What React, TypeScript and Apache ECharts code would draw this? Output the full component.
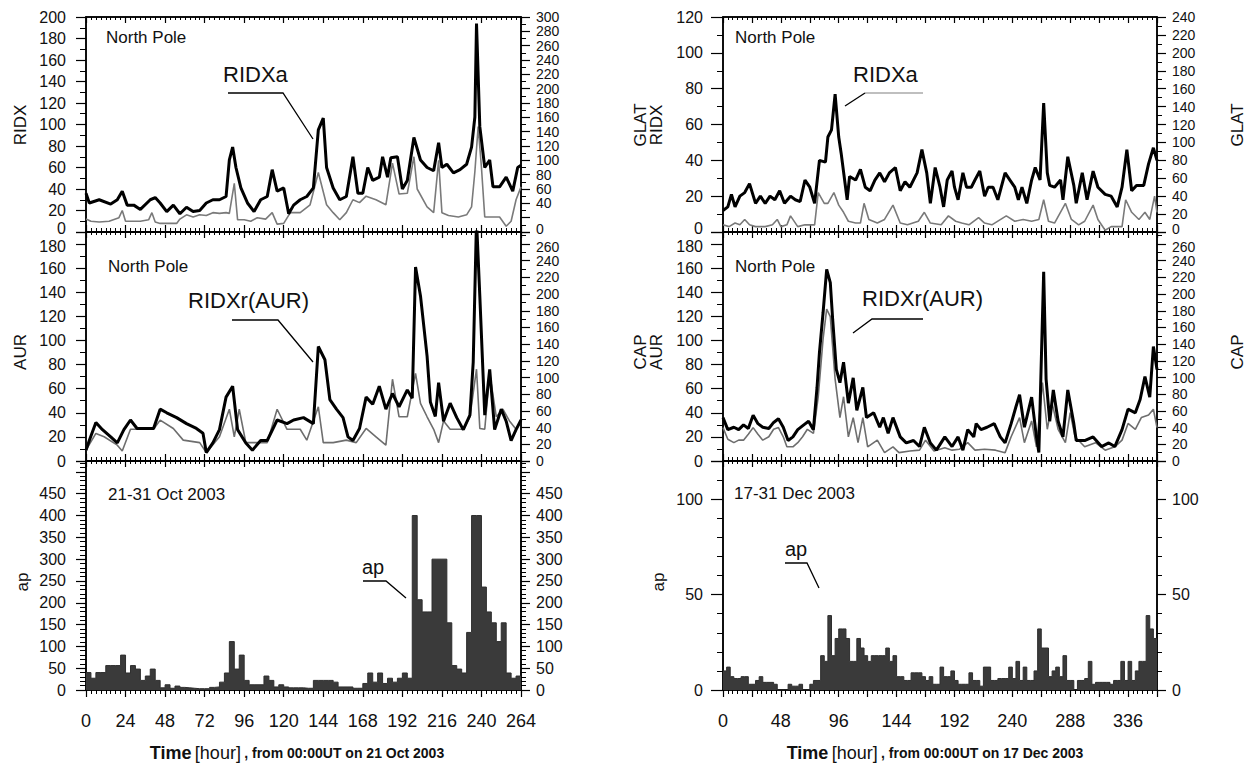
import React, { useEffect, useRef } from 'react';
import * as echarts from 'echarts';

// ---------- Data (hour, value) ----------
// 21-31 Oct 2003, North Pole, RIDXa (left axis, RIDX)
const ridxOct: number[][] = [[0,36],[2,27],[8,30],[15,26],[19,30],[22,38],[25,25],[29,25],[33,21],[39,30],[42,32],[45,27],[49,19],[53,25],[57,17],[61,23],[65,19],[69,20],[73,27],[77,30],[81,30],[85,33],[87,67],[89,79],[91,60],[94,41],[98,27],[102,19],[106,30],[110,33],[113,58],[116,38],[120,41],[123,17],[126,25],[130,30],[134,33],[138,41],[141,95],[144,106],[146,60],[150,41],[154,30],[158,33],[162,70],[165,36],[168,36],[171,60],[174,48],[178,51],[180,70],[183,51],[185,69],[189,70],[192,40],[195,48],[199,88],[203,67],[207,60],[211,57],[214,83],[216,60],[219,63],[223,55],[227,58],[231,63],[234,79],[236,107],[237,194],[239,98],[242,60],[245,67],[247,42],[251,42],[255,51],[259,38],[262,60],[264,62]];
// GLAT (right axis)
const glatOct: number[][] = [[0,18],[3,15],[8,14],[14,15],[20,20],[22,30],[24,15],[28,15],[33,15],[38,17],[40,27],[42,14],[45,12],[50,12],[55,12],[57,18],[61,24],[65,21],[69,24],[73,23],[77,27],[81,26],[85,27],[87,26],[90,68],[92,17],[96,17],[100,15],[104,20],[109,18],[113,27],[116,11],[120,12],[124,27],[130,27],[136,38],[141,83],[146,38],[150,27],[154,17],[158,27],[162,45],[166,41],[170,50],[176,45],[182,38],[186,96],[190,53],[195,54],[199,105],[201,60],[207,35],[211,27],[214,100],[216,27],[220,23],[226,21],[231,24],[234,35],[236,84],[238,147],[240,90],[242,21],[247,21],[251,21],[255,8],[258,15],[261,45],[264,63]];
// RIDXr(AUR) (left axis, AUR)
const aurOct: number[][] = [[0,9],[2,17],[6,32],[10,26],[15,20],[19,15],[23,26],[27,34],[31,27],[35,27],[41,27],[45,43],[49,40],[55,36],[61,31],[67,27],[71,23],[73,7],[77,15],[81,26],[85,53],[89,62],[92,26],[97,15],[101,9],[106,17],[110,17],[116,34],[122,31],[126,34],[132,36],[138,31],[141,95],[145,84],[148,51],[152,43],[156,36],[159,20],[162,17],[166,27],[170,53],[174,47],[178,62],[182,43],[186,56],[190,45],[195,59],[198,52],[200,161],[203,137],[207,87],[209,49],[212,37],[214,65],[217,33],[221,48],[225,36],[229,26],[233,38],[235,82],[237,200],[239,137],[242,38],[245,76],[248,26],[252,43],[255,33],[258,17],[261,26],[264,34]];
// CAP (right axis)
const capOct: number[][] = [[0,13],[6,33],[11,29],[19,19],[22,12],[27,38],[33,38],[41,38],[45,49],[53,39],[59,25],[69,22],[73,10],[81,29],[87,62],[90,29],[93,62],[97,22],[106,22],[110,22],[116,62],[122,38],[130,38],[134,25],[141,65],[144,22],[150,22],[158,25],[164,22],[170,39],[176,29],[182,19],[186,98],[190,53],[195,53],[200,105],[203,69],[207,53],[211,38],[214,22],[217,48],[221,38],[229,38],[233,53],[237,110],[239,39],[242,38],[245,105],[249,53],[253,62],[257,48],[261,38],[264,48]];
// ap, 3-hourly values from 00UT 21 Oct
const apOct: number[] = [40,27,40,40,56,56,56,80,39,56,48,22,32,48,22,5,12,4,9,6,5,4,3,3,3,6,7,18,39,111,48,80,22,12,12,12,32,22,7,12,7,5,5,5,4,4,22,22,22,22,18,7,7,7,4,4,15,39,18,39,15,27,18,27,39,27,400,207,179,179,300,300,300,154,56,48,39,132,400,400,236,179,154,111,154,39,27,32];
const apOctBand: number[] = [199, 223, 40, 55]; // hour from, hour to, ap from, ap to

// 17-31 Dec 2003
const ridxDec: number[][] = [[0,12],[4,14],[7,21],[10,14],[14,20],[18,22],[22,27],[27,16],[31,20],[35,16],[39,20],[43,18],[47,23],[51,16],[56,20],[60,18],[64,17],[68,29],[72,25],[76,16],[80,40],[85,39],[87,53],[90,57],[93,77],[96,53],[98,44],[103,18],[105,31],[110,29],[114,35],[118,25],[122,23],[126,29],[130,33],[134,28],[138,33],[143,36],[147,23],[151,28],[155,25],[161,33],[165,46],[169,33],[172,16],[176,36],[180,25],[183,14],[186,29],[190,34],[192,25],[195,18],[199,33],[202,25],[206,25],[209,29],[213,34],[217,20],[220,25],[224,25],[228,18],[234,33],[238,29],[242,25],[245,18],[248,25],[252,16],[256,29],[259,36],[263,29],[266,72],[269,33],[271,26],[275,25],[280,29],[282,18],[286,42],[291,26],[293,16],[298,33],[302,18],[307,34],[311,25],[317,21],[322,20],[327,14],[331,25],[335,46],[339,23],[343,26],[349,26],[353,38],[357,47],[360,40]];
const glatDec: number[][] = [[0,8],[5,6],[10,10],[14,8],[18,14],[22,8],[27,6],[35,6],[41,8],[45,14],[48,6],[53,8],[56,18],[62,6],[68,8],[76,8],[79,44],[84,32],[87,32],[92,44],[96,30],[100,22],[104,12],[110,10],[114,10],[117,32],[121,14],[128,10],[134,14],[141,30],[147,10],[153,8],[162,12],[167,22],[172,10],[181,8],[187,18],[193,12],[198,10],[204,8],[212,16],[217,10],[223,8],[235,18],[242,12],[249,14],[256,12],[262,14],[266,36],[270,12],[275,10],[284,32],[289,14],[295,8],[300,12],[307,30],[311,14],[317,2],[322,6],[331,6],[334,36],[339,22],[345,14],[350,22],[354,14],[358,40],[360,22]];
const aurDec: number[][] = [[0,36],[4,26],[9,28],[13,26],[17,30],[21,27],[25,38],[29,31],[33,28],[38,27],[42,32],[46,35],[50,28],[54,17],[58,20],[62,26],[67,30],[71,33],[75,26],[78,61],[80,90],[83,123],[86,159],[89,148],[91,117],[94,76],[97,65],[100,82],[104,48],[108,69],[111,42],[116,61],[119,36],[125,40],[130,28],[133,36],[137,23],[141,36],[147,20],[152,15],[158,17],[163,12],[167,28],[172,15],[177,9],[184,20],[190,12],[195,20],[199,9],[203,26],[208,20],[210,31],[214,26],[219,28],[225,31],[230,20],[234,15],[239,31],[243,45],[246,55],[250,28],[256,53],[260,20],[262,7],[266,157],[268,68],[271,33],[274,59],[278,33],[282,20],[286,59],[291,31],[293,17],[300,17],[307,20],[314,12],[320,15],[325,12],[331,26],[336,43],[342,40],[346,51],[350,70],[354,53],[357,95],[360,76]];
const capDec: number[][] = [[0,40],[4,26],[9,22],[13,25],[17,25],[21,32],[25,40],[29,32],[33,25],[38,29],[42,38],[46,40],[50,29],[53,17],[58,17],[62,22],[66,29],[70,38],[75,33],[79,77],[83,146],[86,182],[89,173],[93,98],[97,52],[100,77],[104,29],[108,52],[112,22],[116,52],[120,17],[128,25],[134,10],[141,17],[146,10],[155,12],[163,13],[168,25],[175,12],[184,16],[190,13],[196,14],[203,22],[209,13],[217,14],[226,13],[234,10],[239,29],[246,52],[250,22],[256,48],[260,17],[265,94],[269,38],[273,69],[278,38],[284,22],[288,58],[292,29],[300,17],[309,22],[317,13],[325,17],[331,25],[336,45],[342,38],[347,52],[353,55],[357,62],[360,40]];
const apDec: number[] = [10,12,7,6,6,7,7,3,3,5,7,4,4,4,3,0,0,0,3,2,2,3,0,0,3,5,5,18,15,39,18,27,32,32,27,15,15,27,22,18,15,18,18,18,18,22,15,18,7,7,5,5,9,9,9,7,5,7,3,3,12,7,7,10,5,3,3,3,9,5,5,2,12,12,5,5,6,6,6,12,6,15,5,12,5,5,10,32,22,22,7,10,12,7,18,5,5,0,5,5,6,15,3,4,4,4,4,3,5,5,15,5,15,5,10,15,15,39,32,27];
const AP_STEP_HOURS = 3;

// ---------- Layout ----------
const FONT = 'Liberation Sans, Arial, sans-serif';
const COLS = [
  { left: 86, width: 435, xmax: 264, minor: 8, labelEvery: 24, tickL: 10 },
  { left: 723, width: 434, xmax: 360, minor: 6, labelEvery: 48, tickL: 12 },
];
const ROWS = [
  { top: 17, height: 215 },
  { top: 232, height: 229 },
  { top: 461, height: 229 },
];
// per grid: [left axis, right axis] => max, interval, minor split, highest labelled, font size
const YCFG = [
  [[200, 20, 2, 200, 16], [300, 20, 2, 300, 14]],
  [[190, 20, 2, 180, 16], [274.4, 20, 2, 260, 14]],
  [[525, 50, 5, 450, 16], [525, 50, 5, 450, 16]],
  [[120, 20, 2, 120, 16], [240, 20, 2, 240, 14]],
  [[190, 20, 2, 180, 16], [274.4, 20, 2, 260, 14]],
  [[120, 50, 5, 100, 16], [120, 50, 5, 100, 16]],
];

function apSteps(vals: number[], total: number) {
  const pts = vals.map((v, i) => [i * AP_STEP_HOURS, v]);
  pts.push([total, vals[vals.length - 1]]);
  return pts;
}

function buildOption() {
  const grids: any[] = [];
  const xAxes: any[] = [];
  const yAxes: any[] = [];
  COLS.forEach((c, ci) => {
    ROWS.forEach((r, ri) => {
      const g = ci * 3 + ri;
      grids.push({ left: c.left, top: r.top, width: c.width, height: r.height, show: true, borderColor: '#000', borderWidth: 1.5, backgroundColor: 'transparent', containLabel: false });
      const bottomPanel = ri === 2;
      const base = {
        type: 'value', gridIndex: g, min: 0, max: c.xmax, interval: 24,
        splitLine: { show: false },
        axisLine: { show: true, onZero: false, lineStyle: { color: '#000', width: 1.5 } },
        minorTick: { show: true, splitNumber: c.minor, length: 3, lineStyle: { color: '#000', width: 1 } },
        minorSplitLine: { show: false },
      };
      xAxes.push({
        ...base, position: 'bottom',
        axisTick: { show: true, inside: !bottomPanel, length: 7, lineStyle: { color: '#000', width: 1.2 } },
        minorTick: { ...base.minorTick, length: 4 },
        axisLabel: {
          show: bottomPanel, margin: 22, fontSize: 18, color: '#111', fontFamily: FONT,
          showMinLabel: true, showMaxLabel: true,
          formatter: (v: number) => (v % c.labelEvery === 0 ? String(v) : ''),
        },
      });
      xAxes.push({
        ...base, position: 'top',
        axisTick: { show: true, inside: true, length: 6, lineStyle: { color: '#000', width: 1.2 } },
        axisLabel: { show: false },
      });
      YCFG[g].forEach((cfg, side) => {
        const [max, interval, minor, labelMax, fs] = cfg;
        // nudge labels at shared panel borders apart a little
        const shiftZeroUp = ri === 0;
        const shiftTopDown = ri === 1;
        yAxes.push({
          type: 'value', gridIndex: g, position: side === 0 ? 'left' : 'right',
          min: 0, max, interval,
          splitLine: { show: false },
          axisLine: { show: true, onZero: false, lineStyle: { color: '#000', width: 1.5 } },
          axisTick: { show: true, inside: false, length: side === 0 ? c.tickL : 9, lineStyle: { color: '#000', width: 1.2 } },
          minorTick: { show: true, splitNumber: minor, length: side === 0 ? 6 : 5, lineStyle: { color: '#000', width: 1 } },
          axisLabel: {
            show: true, margin: side === 0 ? 20 : 15, fontSize: fs, lineHeight: 12, color: '#111', fontFamily: FONT,
            showMinLabel: true, showMaxLabel: true,
            rich: {
              up: { fontSize: fs, fontFamily: FONT, color: '#111', padding: [0, 0, 7, 0] },
              dn: { fontSize: fs, fontFamily: FONT, color: '#111', padding: [5, 0, 0, 0] },
            },
            formatter: (v: number) => {
              const ok = v <= labelMax + 1e-6 && Math.abs(v / interval - Math.round(v / interval)) < 1e-6;
              if (!ok) return '';
              const s = String(Math.round(v));
              if (shiftZeroUp && v === 0) return `{up|${s}}`;
              if (shiftTopDown && Math.abs(v - labelMax) < 1e-6) return `{dn|${s}}`;
              return s;
            },
          },
        });
      });
    });
  });

  const line = (data: number[][], g: number, side: number, color: string, width: number, z: number) => ({
    type: 'line', data, xAxisIndex: g * 2, yAxisIndex: g * 2 + side, showSymbol: false, symbol: 'none',
    clip: true, lineStyle: { color, width }, z, silent: true,
  });
  const ap = (vals: number[], g: number, total: number, band?: number[]) => ({
    type: 'line', data: apSteps(vals, total), step: 'end', xAxisIndex: g * 2, yAxisIndex: g * 2,
    showSymbol: false, symbol: 'none', clip: true, silent: true,
    lineStyle: { color: '#2e2e2e', width: 1 }, areaStyle: { color: '#3a3a3a', opacity: 1 },
    markArea: band ? { silent: true, itemStyle: { color: '#000' }, data: [[{ xAxis: band[0], yAxis: band[2] }, { xAxis: band[1], yAxis: band[3] }]] } : undefined,
  });

  const series = [
    line(glatOct, 0, 1, '#7a7a7a', 1.6, 2),
    line(ridxOct, 0, 0, '#000', 3, 3),
    line(capOct, 1, 1, '#6e6e6e', 1.6, 2),
    line(aurOct, 1, 0, '#000', 3, 3),
    ap(apOct, 2, 264, apOctBand),
    line(glatDec, 3, 1, '#7a7a7a', 1.6, 2),
    line(ridxDec, 3, 0, '#000', 3, 3),
    line(capDec, 4, 1, '#6e6e6e', 1.6, 2),
    line(aurDec, 4, 0, '#000', 3, 3),
    ap(apDec, 5, 360),
  ];

  const txt = (text: string, x: number, y: number, fontSize: number, extra: any = {}) => ({
    type: 'text', x, y, z: 100, silent: true,
    style: { text, fontSize, fontFamily: FONT, fill: '#111', textVerticalAlign: 'middle', verticalAlign: 'middle', ...extra },
  });
  const vtxt = (text: string, x: number, y: number) => ({
    type: 'text', x, y, rotation: Math.PI / 2, z: 100, silent: true,
    style: { text, fontSize: 17, lineHeight: 16, fontFamily: FONT, fill: '#111', textAlign: 'center', align: 'center', textVerticalAlign: 'middle', verticalAlign: 'middle' },
  });
  const pl = (points: number[][], stroke = '#000', lineWidth = 1.3) => ({
    type: 'polyline', z: 100, silent: true, shape: { points }, style: { stroke, lineWidth, fill: null },
  });
  const title = (date: string, x: number) => ({
    type: 'text', x, y: 753, z: 100, silent: true,
    style: {
      text: `{a|Time} {b|[hour]} {c|, from 00:00UT on ${date}}`,
      textAlign: 'center', align: 'center', textVerticalAlign: 'middle', verticalAlign: 'middle', fill: '#111',
      rich: {
        a: { fontSize: 18, fontWeight: 'bold', fontFamily: FONT, fill: '#111' },
        b: { fontSize: 18, fontFamily: FONT, fill: '#111' },
        c: { fontSize: 14, fontWeight: 'bold', fontFamily: FONT, fill: '#111' },
      },
    },
  });

  const graphics = [
    // left column
    txt('North Pole', 106, 37, 17),
    txt('RIDXa', 223, 74, 22),
    pl([[228, 93], [283, 93], [313, 139]]),
    txt('North Pole', 108, 266, 17),
    txt('RIDXr(AUR)', 188, 300, 22),
    pl([[232, 320], [278, 320], [313, 362]]),
    txt('21-31 Oct 2003', 108, 494, 17),
    txt('ap', 362, 567, 20),
    pl([[363, 581], [386, 581], [406, 598]]),
    vtxt('RIDX', 20, 125),
    vtxt('AUR', 20, 352),
    vtxt('ap', 22, 582),
    title('21 Oct 2003', 297),
    // right column
    txt('North Pole', 735, 37, 17),
    txt('RIDXa', 853, 74, 22),
    pl([[865, 93], [923, 93]], '#aaa', 1.5),
    pl([[865, 93], [845, 106]]),
    txt('North Pole', 735, 266, 17),
    txt('RIDXr(AUR)', 862, 298, 22),
    pl([[923, 319], [872, 319], [853, 333]]),
    txt('17-31 Dec 2003', 734, 493, 17),
    txt('ap', 785, 549, 20),
    pl([[785, 563], [807, 563], [819, 588]]),
    vtxt('GLAT\nRIDX', 648, 125),
    vtxt('CAP\nAUR', 648, 352),
    vtxt('ap', 658, 582),
    vtxt('GLAT', 1237, 125),
    vtxt('CAP', 1237, 352),
    title('17 Dec 2003', 935),
  ];

  return {
    animation: false,
    backgroundColor: '#fff',
    textStyle: { fontFamily: FONT },
    grid: grids,
    xAxis: xAxes,
    yAxis: yAxes,
    series,
    graphic: { elements: graphics },
  };
}

export default function App() {
  const ref = useRef<HTMLDivElement>(null);
  useEffect(() => {
    document.body.style.margin = '0';
    const chart = echarts.init(ref.current as HTMLDivElement, null, { renderer: 'svg' });
    chart.setOption(buildOption() as any);
    return () => chart.dispose();
  }, []);
  return <div ref={ref} style={{ position: 'absolute', left: 0, top: 0, width: 1249, height: 765 }} />;
}
